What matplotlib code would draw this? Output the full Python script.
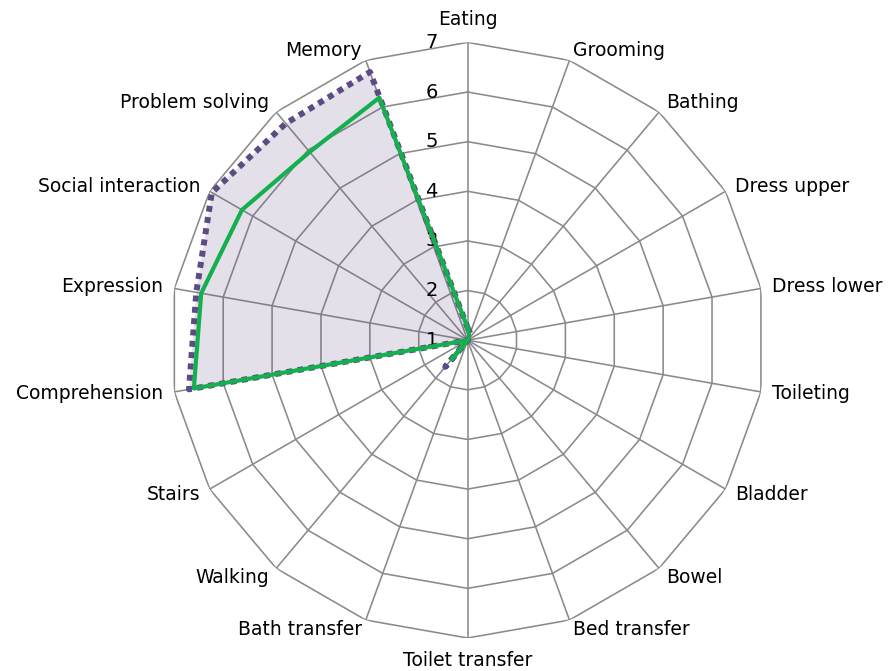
import numpy as np
import matplotlib
matplotlib.use("Agg")
import matplotlib.pyplot as plt

# FIM items, clockwise from the top
categories = ["Eating", "Grooming", "Bathing", "Dress upper", "Dress lower",
              "Toileting", "Bladder", "Bowel", "Bed transfer", "Toilet transfer",
              "Bath transfer", "Walking", "Stairs", "Comprehension", "Expression",
              "Social interaction", "Problem solving", "Memory"]

# dotted purple series (filled) and solid green series
purple_vals = [1.25, 1.15, 1, 1, 1, 1, 1, 1, 1, 1, 1, 1.7, 1,
               6.7, 6.55, 6.95, 6.7, 6.75]
green_vals = [1.25, 1.1, 1, 1, 1, 1, 1, 1, 1, 1, 1, 1.5, 1,
              6.6, 6.45, 6.25, 5.95, 6.2]

ring_levels = [1, 2, 3, 4, 5, 6, 7]

purple = "#5e4b84"
green = "#14b04e"
grid_col = "#8a8a8a"

n = len(categories)
theta = np.arange(n) * 2 * np.pi / n
theta_c = np.append(theta, theta[0])

fig = plt.figure(figsize=(8.89, 6.71), dpi=100)
ax = fig.add_axes([0.191, 0.049, 0.670, 0.888], projection="polar")
ax.set_theta_zero_location("N")
ax.set_theta_direction(-1)
ax.axis("off")

# polygon grid
for v in ring_levels[1:]:
    ax.plot(theta_c, [v] * (n + 1), color=grid_col, lw=1.15, zorder=1)
for t in theta:
    ax.plot([t, t], [1, 7], color=grid_col, lw=1.15, zorder=1)

# series
pv = np.append(purple_vals, purple_vals[0])
gv = np.append(green_vals, green_vals[0])
ax.fill(theta_c, pv, color=purple, alpha=0.17, lw=0, zorder=2)
ax.plot(theta_c, pv, color=purple, lw=4.3, linestyle=(0, (1, 0.9)), zorder=3)
ax.plot(theta_c, gv, color=green, lw=3, zorder=4)

ax.set_ylim(1, 7)

# radial tick labels left of the top spoke
for v in ring_levels:
    ax.annotate(str(v), xy=(0, v), xytext=(-36, 0), textcoords="offset pixels",
                ha="center", va="center", fontsize=14, color="black",
                annotation_clip=False)

# category labels
for t, lab in zip(theta, categories):
    s, c = np.sin(t), np.cos(t)
    if abs(s) < 0.01:
        ha = "center"
    else:
        ha = "left" if s > 0 else "right"
    if c > 0.6:
        va = "bottom"
    elif c < -0.6:
        va = "top"
    else:
        va = "center"
    dx = 11 * s
    if abs(s) < 0.01:
        dy = 13 * c
    elif va == "center":
        dy = 10 * c
    else:
        dy = 0
    ax.annotate(lab, xy=(t, 7), xytext=(dx, dy), textcoords="offset pixels",
                ha=ha, va=va, fontsize=13.5, color="black",
                annotation_clip=False)

fig.savefig("out.png", dpi=100)
